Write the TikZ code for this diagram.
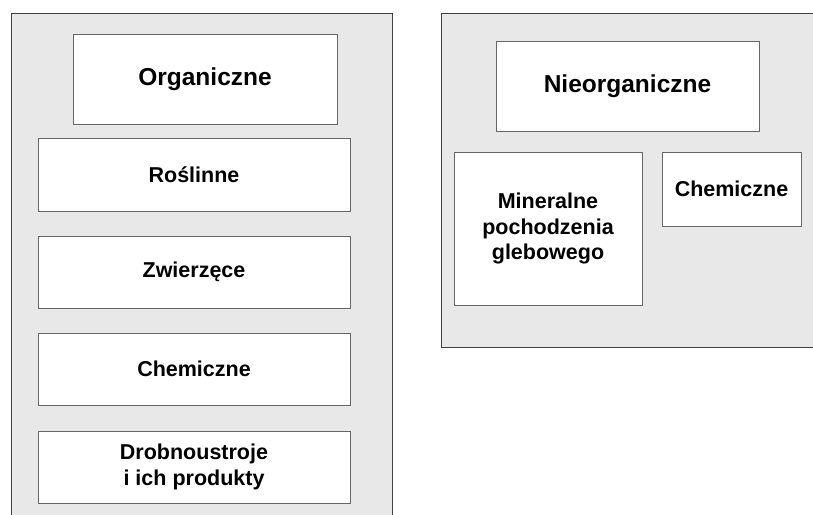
\documentclass[tikz,border=0pt]{standalone}
\usepackage{fontspec}
\setmainfont{Liberation Sans}
\tikzset{
    panel/.style={draw=black!75, fill=black!9, line width=0.9pt},
    box/.style={draw=black!60, fill=white, line width=0.9pt, inner sep=0pt,
        align=center, font=\bfseries\fontsize{21.5}{25.8}\selectfont},
    bigbox/.style={box, font=\bfseries\fontsize{24.5}{29}\selectfont}
}
\begin{document}
\begin{tikzpicture}[x=1pt,y=-1pt]
    \useasboundingbox (0,0) rectangle (813,514);
    \clip (0,0) rectangle (813,514);
    %draw panels
    \draw [panel] (11,13) rectangle (392,530);
    \draw [panel] (441,13) rectangle (830,347);
    %left column
    \node [bigbox, minimum width=264pt, minimum height=90pt] (organiczne) at (205,79) {Organiczne};
    \node [box, minimum width=312pt, minimum height=73pt] (roslinne) at (194,174.5) {Roślinne};
    \node [box, minimum width=312pt, minimum height=72pt] (zwierzece) at (194,272) {Zwierzęce};
    \node [box, minimum width=312pt, minimum height=72pt] (chemiczneL) at (194,369) {Chemiczne};
    \node [box, minimum width=312pt, minimum height=72pt] (drobnoustroje) at (194,467) {Drobnoustroje\\i ich produkty};
    %right column
    \node [bigbox, minimum width=263pt, minimum height=90pt] (nieorganiczne) at (627.5,86) {Nieorganiczne};
    \node [box, minimum width=188pt, minimum height=153pt] (mineralne) at (548,228.5) {Mineralne\\pochodzenia\\glebowego};
    \node [box, minimum width=139pt, minimum height=74pt] (chemiczneR) at (731.5,189) {Chemiczne};
\end{tikzpicture}
\end{document}
